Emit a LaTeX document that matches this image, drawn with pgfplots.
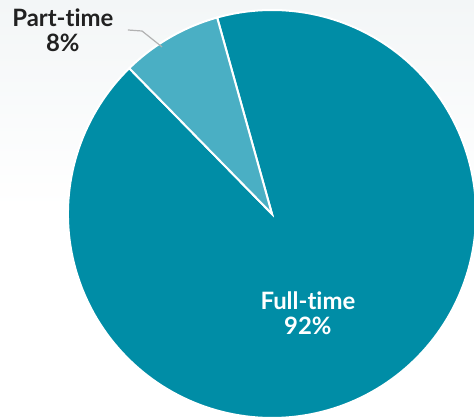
\documentclass[border=0pt]{standalone}
\usepackage{fontspec}
\setmainfont[Ligatures={NoCommon}]{Lato}
\usepackage{pgfplots}
\pgfplotsset{compat=1.18}
\definecolor{fullc}{RGB}{0,141,166}
\definecolor{partc}{RGB}{74,175,196}
\definecolor{bgtop}{RGB}{243,246,247}
\begin{document}
\begin{tikzpicture}
% values (percent)
\def\partval{8}
\def\fullval{92}
\pgfmathsetmacro{\aStart}{105.6}
\pgfmathsetmacro{\aPartEnd}{\aStart+\partval*3.6}
\pgfmathsetmacro{\aFullEnd}{\aPartEnd+\fullval*3.6}
\begin{axis}[
  width=474bp, height=418bp, scale only axis,
  xmin=-1.333, xmax=0.990, ymin=-1.0, ymax=1.049,
  hide axis, clip=true,
]
\shade[top color=bgtop, bottom color=white, middle color=white] (axis cs:-1.333,1.049) rectangle (axis cs:0.990,-1.0);
\addplot[fill=fullc, draw=white, line width=2bp, domain=\aPartEnd:\aFullEnd, samples=200]
  ({cos(x)},{sin(x)}) -- (axis cs:0,0) -- cycle;
\addplot[fill=partc, draw=white, line width=2bp, domain=\aStart:\aPartEnd, samples=60]
  ({cos(x)},{sin(x)}) -- (axis cs:0,0) -- cycle;
\addplot[color=black!30, line width=1.2bp] coordinates {(-0.706,0.902) (-0.637,0.897) (-0.539,0.819)};
\node[font=\fontsize{24}{25}\selectfont\bfseries, text=black!87, align=center, anchor=center] at (axis cs:-1.025,0.902) {Part-time\\8\%};
\node[font=\fontsize{24}{25}\selectfont\bfseries, text=white, align=center, anchor=center] at (axis cs:0.176,-0.488) {Full-time\\92\%};
\end{axis}
\end{tikzpicture}
\end{document}
